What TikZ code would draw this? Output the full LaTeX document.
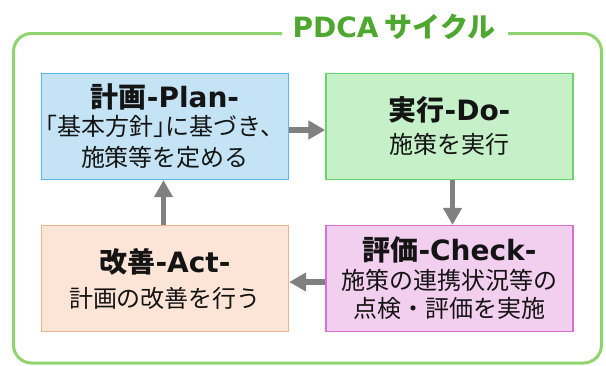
\documentclass[tikz,border=0pt]{standalone}
\usepackage{fontspec}
\setmainfont{Noto Sans CJK JP}
\newfontfamily\latb{DejaVu Sans}
\usetikzlibrary{arrows.meta}
\definecolor{framegreen}{RGB}{143,212,110}
\definecolor{titlegreen}{RGB}{78,167,46}
\definecolor{planfill}{RGB}{196,228,245}
\definecolor{planline}{RGB}{92,184,232}
\definecolor{dofill}{RGB}{198,240,200}
\definecolor{doline}{RGB}{104,211,104}
\definecolor{actfill}{RGB}{252,228,214}
\definecolor{actline}{RGB}{244,177,131}
\definecolor{checkfill}{RGB}{242,206,239}
\definecolor{checkline}{RGB}{218,112,214}
\definecolor{arrowgray}{RGB}{128,128,128}
\definecolor{txt}{RGB}{20,20,20}
\newcommand\boxtitle[2]{{\fontsize{28}{29}\selectfont\bfseries #1{\latb\bfseries #2}}}
\begin{document}
\begin{tikzpicture}[x=1pt,y=-1pt,
  pdcabox/.style={draw, line width=1.3pt, minimum width=247pt, minimum height=106pt,
    align=center, inner sep=0pt, text=txt, font=\fontsize{24}{29}\selectfont},
  arr/.style={draw=arrowgray, line width=5.5pt, -{Triangle[length=17pt,width=18pt]}},
  frameline/.style={draw=framegreen, line width=3pt, rounded corners=18pt}]
\useasboundingbox (0,0) rectangle (606,365);
% outer frame with gap for title
\coordinate (gapL) at (282,33.5);
\coordinate (gapR) at (508,33.5);
\draw[frameline] (gapL) -- (13.5,33.5) -- (13.5,363) -- (601.5,363) -- (601.5,33.5) -- (gapR);
\node[anchor=base, inner sep=0pt, text=titlegreen, font=\fontsize{28}{30}\selectfont\bfseries] (title) at (394,37.5) {{\latb\bfseries PDCA} サイクル};
% boxes
\node[pdcabox, fill=planfill, draw=planline] (plan) at (165,126.5)
  {\boxtitle{計画}{-Plan-}\\[-1pt]\hspace*{-.5em}「基本方針」\hspace*{-.5em}に基づき、\hspace*{-.5em}\\[2pt]施策等を定める};
\node[pdcabox, fill=dofill, draw=doline] (do) at (449.5,126.5)
  {\boxtitle{実行}{-Do-}\\[4pt]施策を実行};
\node[pdcabox, fill=actfill, draw=actline] (act) at (165,278.5)
  {\boxtitle{改善}{-Act-}\\[6pt]計画の改善を行う};
\node[pdcabox, fill=checkfill, draw=checkline] (check) at (449.5,278.5)
  {\boxtitle{評価}{-Check-}\\[0pt]施策の連携状況等の\\[-1pt]点検・評価を実施};
% arrows
\draw[arr] ([yshift=-3.5pt]plan.east) -- ([yshift=-3.5pt]do.west);
\draw[arr] ([xshift=3pt]do.south) -- ([xshift=3pt]check.north);
\draw[arr] ([yshift=-3.5pt]check.west) -- ([yshift=-3.5pt]act.east);
\draw[arr] ([xshift=-1.5pt]act.north) -- ([xshift=-1.5pt]plan.south);
\end{tikzpicture}
\end{document}
